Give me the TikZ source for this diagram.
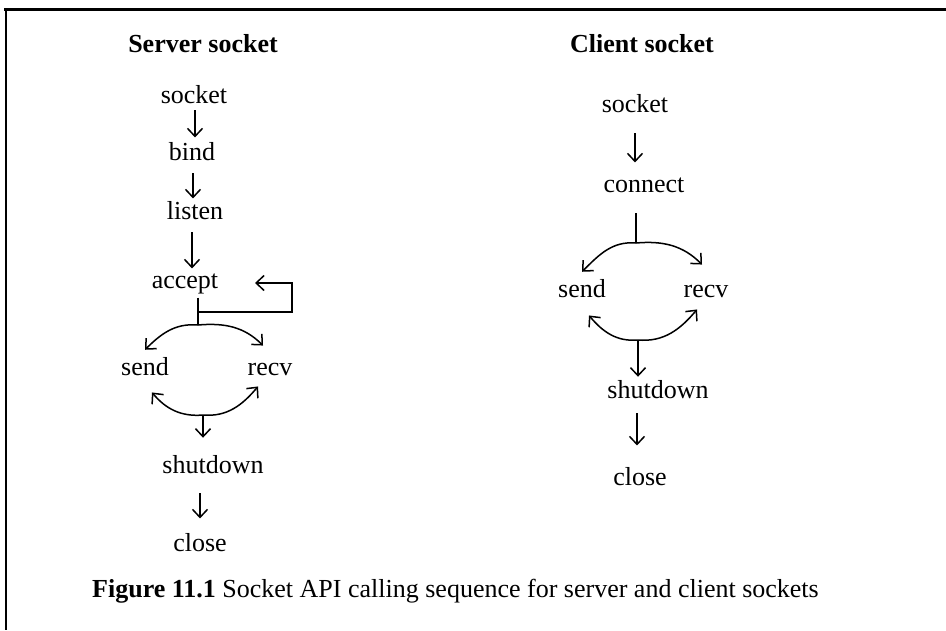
\documentclass[tikz,border=0pt]{standalone}
\usepackage{fontspec}
\setmainfont{Liberation Serif}
\usetikzlibrary{arrows.meta}
\tikzset{
  lbl/.style={anchor=base, inner sep=0pt, font=\fontsize{26}{30}\selectfont},
  hd/.style={anchor=base, inner sep=0pt, font=\fontsize{26}{30}\selectfont\bfseries},
  arr/.style={line width=1.5pt, -{Straight Barb[length=8pt,width=15pt,line width=1.5pt]}},
  ln/.style={line width=1.5pt},
  frame/.style={line width=3pt},
  arcl/.style={out=175,in=45},
  arcr/.style={out=5,in=135}
}
\begin{document}
\begin{tikzpicture}[x=1pt,y=-1pt]
\useasboundingbox (0,0) rectangle (946,630);
% frame
\draw[frame] (4,9) -- (946,9);
\draw[line width=2.5pt] (6,8) -- (6,630);
% headings
\node[hd] (hserv) at (203,52) {Server socket};
\node[hd] (hcli) at (642,52) {Client socket};
% server column
\node[lbl] (ssock) at (194,103) {socket};
\node[lbl] (sbind) at (192,160) {bind};
\node[lbl] (slist) at (195,219) {listen};
\node[lbl] (sacc) at (185,288) {accept};
\node[lbl] (ssend) at (145,375) {send};
\node[lbl] (srecv) at (270,375) {recv};
\node[lbl] (sshut) at (213,473) {shutdown};
\node[lbl] (sclose) at (200,551) {close};
\coordinate (sfork) at (198,312);
\coordinate (stop) at (198,325);
\coordinate (sbot) at (203,415);
\draw[arr] ([xshift=1pt,yshift=-7pt]ssock.south) -- ++(0,27);
\draw[arr] ([xshift=1pt,yshift=-13pt]sbind.south) -- ++(0,25);
\draw[arr] ([xshift=-3pt,yshift=-13pt]slist.south) -- ++(0,36);
\draw[ln] ([xshift=13pt,yshift=-4pt]sacc.south) -- (stop);
\draw[arr] (sfork) -| ++(94,-29) -- ++(-37,0);
\draw[arr] (stop) to[arcl] ([yshift=7pt]ssend.north);
\draw[arr] (stop) to[arcr] ([xshift=-7pt,yshift=17pt]srecv.north);
\draw[arr] (sbot) to[out=185,in=-50] ([xshift=7pt,yshift=-17pt]ssend.south);
\draw[arr] (sbot) to[out=-5,in=-130] ([xshift=-12pt,yshift=-11pt]srecv.south);
\draw[arr] (sbot) -- ([xshift=-10pt,yshift=17pt]sshut.north);
\draw[arr] ([xshift=-13pt,yshift=-20pt]sshut.south) -- ++(0,25);
% client column
\node[lbl] (csock) at (635,112) {socket};
\node[lbl] (cconn) at (644,192) {connect};
\node[lbl] (csend) at (582,297) {send};
\node[lbl] (crecv) at (706,297) {recv};
\node[lbl] (cshut) at (658,398) {shutdown};
\node[lbl] (cclose) at (640,485) {close};
\coordinate (ctop) at (636,243);
\coordinate (cbot) at (638,340);
\draw[arr] ([yshift=-21pt]csock.south) -- ++(0,29);
\draw[ln] ([xshift=-8pt,yshift=-21pt]cconn.south) -- (ctop);
\draw[arr] (ctop) to[arcl] ([yshift=7pt]csend.north);
\draw[arr] (ctop) to[arcr] ([xshift=-4pt,yshift=20pt]crecv.north);
\draw[arr] (cbot) to[out=185,in=-50] ([xshift=7pt,yshift=-18pt]csend.south);
\draw[arr] (cbot) to[out=-5,in=-130] ([xshift=-9pt,yshift=-12pt]crecv.south);
\draw[arr] (cbot) -- ([xshift=-20pt,yshift=3pt]cshut.north);
\draw[arr] ([xshift=-21pt,yshift=-15pt]cshut.south) -- ++(0,32);
% caption
\node[lbl, anchor=base west] (cap) at (92,597) {\textbf{Figure 11.1} Socket API calling sequence for server and client sockets};
\end{tikzpicture}
\end{document}
